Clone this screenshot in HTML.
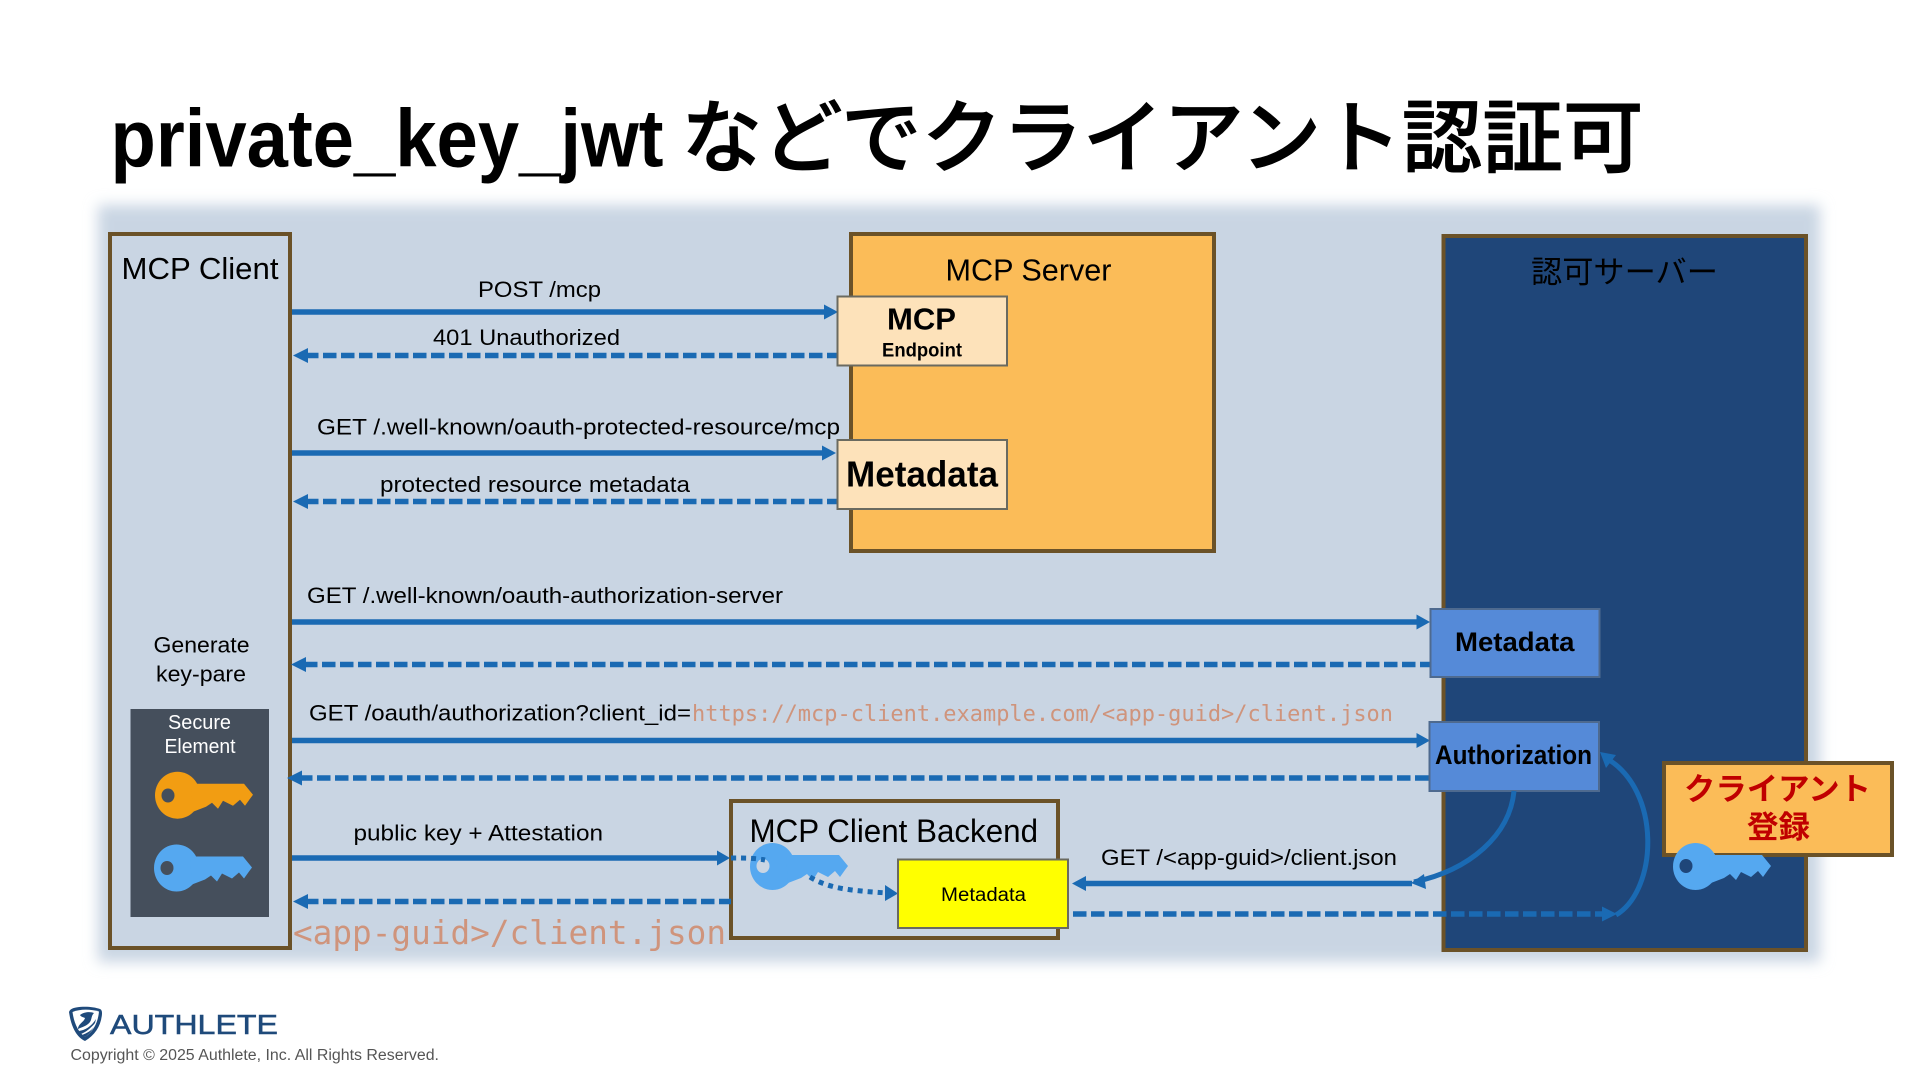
<!DOCTYPE html>
<html lang="ja"><head><meta charset="utf-8"><title>private_key_jwt</title>
<style>
html,body{margin:0;padding:0;background:#fff;width:1920px;height:1080px;overflow:hidden}
svg{display:block}
text{font-family:"Liberation Sans","Noto Sans CJK JP",sans-serif;fill:#000}
.m{font-family:"DejaVu Sans Mono","Liberation Mono",monospace;fill:#cf947c}
.j{font-family:"Noto Sans CJK JP","Liberation Sans",sans-serif}
.b{font-weight:700}
.a{stroke:#1a6ab3;stroke-width:5.5;fill:none}
.d{stroke:#1a6ab3;stroke-width:5.5;fill:none;stroke-dasharray:13.5 4.5}
.h{fill:#1a6ab3}
.box{stroke:#6b5228;stroke-width:4}
.sub{stroke:#6a6a60;stroke-width:2}
</style></head><body>
<svg width="1920" height="1080" viewBox="0 0 1920 1080" xmlns="http://www.w3.org/2000/svg">
<defs>
<filter id="bl" x="-5%" y="-5%" width="110%" height="110%"><feGaussianBlur stdDeviation="7"/></filter>
<g id="key"><ellipse cx="22.5" cy="23.5" rx="22.5" ry="23.5"/><path d="M36,12 L89,12 L98,23 L95,27 L90,34 L85,28 L78,34 L68,29 L63,37 L57,31 L51,35 L38,40 Z"/></g>
</defs>

<!-- title -->
<text x="110.5" y="166.5" font-size="82" class="b" textLength="553" lengthAdjust="spacingAndGlyphs">private_key_jwt</text>
<text x="681.5" y="166" font-size="80" class="j" font-weight="500" textLength="962" lengthAdjust="spacingAndGlyphs" stroke="#000" stroke-width="0.8">などでクライアント認証可</text>

<!-- panel -->
<rect x="98" y="205" width="1722" height="757" fill="#c9d5e3" filter="url(#bl)"/>

<!-- main boxes -->
<rect class="box" x="110" y="234" width="180" height="714" fill="#c9d5e3"/>
<rect class="box" x="851" y="234" width="363" height="317" fill="#fbbc58"/>
<rect class="box" x="1443.5" y="236" width="362.5" height="714" fill="#1f4679"/>
<rect class="box" x="731" y="801" width="327" height="137" fill="#c9d5e3"/>

<!-- labels -->
<text x="121.5" y="279" font-size="31" textLength="157" lengthAdjust="spacingAndGlyphs">MCP Client</text>
<text x="945.5" y="280.5" font-size="31" textLength="166" lengthAdjust="spacingAndGlyphs">MCP Server</text>
<text x="1531" y="283" font-size="31" class="j" textLength="187" lengthAdjust="spacingAndGlyphs">認可サーバー</text>
<text x="749.5" y="842" font-size="32" textLength="288.5" lengthAdjust="spacingAndGlyphs">MCP Client Backend</text>

<text x="478" y="297" font-size="22" textLength="123" lengthAdjust="spacingAndGlyphs">POST /mcp</text>
<text x="433" y="345" font-size="22" textLength="187" lengthAdjust="spacingAndGlyphs">401 Unauthorized</text>
<text x="317" y="434.5" font-size="22" textLength="523" lengthAdjust="spacingAndGlyphs">GET /.well-known/oauth-protected-resource/mcp</text>
<text x="380" y="492" font-size="22" textLength="310" lengthAdjust="spacingAndGlyphs">protected resource metadata</text>
<text x="307" y="603" font-size="22" textLength="476" lengthAdjust="spacingAndGlyphs">GET /.well-known/oauth-authorization-server</text>
<text x="309" y="720.5" font-size="22" textLength="382" lengthAdjust="spacingAndGlyphs">GET /oauth/authorization?client_id=</text>
<text x="692" y="721" font-size="22" class="m" textLength="701" lengthAdjust="spacingAndGlyphs">https://mcp-client.example.com/&lt;app-guid&gt;/client.json</text>
<text x="353.5" y="840.5" font-size="22" textLength="249.5" lengthAdjust="spacingAndGlyphs">public key + Attestation</text>
<text x="293" y="944" font-size="32.5" class="m" textLength="433" lengthAdjust="spacingAndGlyphs">&lt;app-guid&gt;/client.json</text>
<text x="1101" y="865" font-size="22" textLength="296" lengthAdjust="spacingAndGlyphs">GET /&lt;app-guid&gt;/client.json</text>

<text x="153.5" y="652.5" font-size="22" textLength="96" lengthAdjust="spacingAndGlyphs">Generate</text>
<text x="156" y="681.5" font-size="22" textLength="90" lengthAdjust="spacingAndGlyphs">key-pare</text>

<!-- secure element -->
<rect x="130.5" y="709" width="138.5" height="208" fill="#454f5c"/>
<text x="168" y="729" font-size="20" style="fill:#fff" textLength="63" lengthAdjust="spacingAndGlyphs">Secure</text>
<text x="164.5" y="753" font-size="20" style="fill:#fff" textLength="71" lengthAdjust="spacingAndGlyphs">Element</text>
<use href="#key" x="155" y="771.7" fill="#f29d12"/>
<ellipse cx="168" cy="795.5" rx="6.5" ry="7" fill="#454f5c"/>
<use href="#key" x="154" y="844.5" fill="#55a8f0"/>
<ellipse cx="167" cy="868" rx="6.5" ry="7" fill="#454f5c"/>

<!-- arrows -->
<line class="a" x1="292" y1="312" x2="826" y2="312"/><polygon class="h" points="824,304.5 838,312 824,319.5"/>
<line class="d" x1="305" y1="355.5" x2="838" y2="355.5"/><polygon class="h" points="293,355.5 308,348 308,363"/>
<line class="a" x1="292" y1="453" x2="824" y2="453"/><polygon class="h" points="822,445.5 836,453 822,460.5"/>
<line class="d" x1="305" y1="501.5" x2="838" y2="501.5"/><polygon class="h" points="293,501.5 308,494 308,509"/>

<line class="a" x1="292" y1="622" x2="1418" y2="622"/><polygon class="h" points="1416.5,614.5 1430,622 1416.5,629.5"/>
<line class="d" x1="304" y1="664.5" x2="1430" y2="664.5"/><polygon class="h" points="291,664.5 306,657 306,672"/>
<line class="a" x1="292" y1="740.5" x2="1418" y2="740.5"/><polygon class="h" points="1416.5,733 1430,740.5 1416.5,748"/>
<line class="d" x1="299" y1="778" x2="1430" y2="778"/><polygon class="h" points="287,778 302,770.5 302,785.5"/>

<line class="a" x1="292" y1="858" x2="719" y2="858"/><polygon class="h" points="717,850.5 730,858 717,865.5"/>
<line class="d" x1="305" y1="901.5" x2="731" y2="901.5"/><polygon class="h" points="293,901.5 308,894 308,909"/>

<line class="a" x1="1083" y1="883.5" x2="1412" y2="883.5"/><polygon class="h" points="1072,883.5 1086,876 1086,891"/>
<line class="d" x1="1073" y1="914" x2="1602" y2="914"/><polygon class="h" points="1602,906.5 1617,914 1602,921.5"/>

<!-- backend key + dotted -->
<use href="#key" x="750" y="843" fill="#55a8f0"/>
<ellipse cx="763" cy="866" rx="6.5" ry="7" fill="#c9d5e3"/>
<path d="M731,858 C745,858 755,858 765,860" stroke="#1a6ab3" stroke-width="5" stroke-dasharray="5 5" fill="none"/>
<path d="M810,877 C830,890 860,891 887,893" stroke="#1a6ab3" stroke-width="5" stroke-dasharray="5 5" fill="none"/>
<polygon class="h" points="885,885 898,893.5 885,901"/>

<!-- sub boxes -->
<rect class="sub" x="837.5" y="296.5" width="169.5" height="69" fill="#fde2ba"/>
<text x="887" y="329.5" font-size="31" class="b" textLength="69" lengthAdjust="spacingAndGlyphs">MCP</text>
<text x="882" y="356.5" font-size="19" class="b" textLength="80" lengthAdjust="spacingAndGlyphs">Endpoint</text>
<rect class="sub" x="837.5" y="440" width="169.5" height="69" fill="#fde2ba"/>
<text x="846" y="486.5" font-size="36" class="b" textLength="152" lengthAdjust="spacingAndGlyphs">Metadata</text>

<rect x="898" y="859.5" width="170" height="68.5" fill="#ffff00" stroke="#6a6a60" stroke-width="2"/>
<text x="941" y="901" font-size="19" textLength="85" lengthAdjust="spacingAndGlyphs">Metadata</text>

<rect x="1430.5" y="609" width="169" height="68" fill="#558ad8" stroke="#4e6a8f" stroke-width="2"/>
<text x="1455" y="651" font-size="27" class="b" textLength="119.5" lengthAdjust="spacingAndGlyphs">Metadata</text>
<rect x="1429.5" y="722" width="169.5" height="69" fill="#558ad8" stroke="#4e6a8f" stroke-width="2"/>
<text x="1435" y="764" font-size="27" class="b" textLength="157" lengthAdjust="spacingAndGlyphs">Authorization</text>

<!-- curves -->
<path d="M1514,791 C1510,835 1470,870 1414,882" stroke="#1a6ab3" stroke-width="5" fill="none"/>
<polygon class="h" points="1411,883 1424,874 1426,889"/>
<path d="M1616,915 C1658,890 1662,790 1606,758" stroke="#1a6ab3" stroke-width="5" fill="none"/>
<polygon class="h" points="1600,752 1616,755 1606,768"/>

<!-- client registration -->
<rect class="box" x="1664" y="763" width="228" height="92" fill="#fbbc58"/>
<text x="1684" y="800" font-size="31" class="j b" style="fill:#c00000" textLength="187" lengthAdjust="spacingAndGlyphs">クライアント</text>
<text x="1747" y="838" font-size="31" class="j b" style="fill:#c00000" textLength="63" lengthAdjust="spacingAndGlyphs">登録</text>
<use href="#key" x="1673" y="843" fill="#55a8f0"/>
<ellipse cx="1686" cy="866" rx="6.5" ry="7" fill="#1f4679"/>

<!-- footer logo -->
<path d="M69,1012 C70,1009 73,1008 76,1007.5 C85,1006 94,1007 100,1009 C102,1010 102,1012 102,1014 C101,1026 95,1035 85,1041 C76,1037 71,1026 69,1012 Z" fill="#1f4a7b"/>
<path d="M72.5,1012 C80,1009 90,1009 99,1011.5 C98,1022 94,1031 85,1037 C78,1032 74,1023 72.5,1012 Z" fill="#fff"/>
<path d="M78,1029 C78,1024 84,1022 85,1018 C83,1017 81,1017 80,1015 C85,1011 92,1012 94,1013 C91,1016 92,1019 90,1022 C87,1026 82,1027 78,1029 Z" fill="#1f4a7b"/>
<path d="M79,1031 C85,1030 91,1027 96,1019 L95,1023 C91,1028 86,1032 81,1034 Z M82,1035 C87,1033 91,1031 94,1027 C91,1032 88,1035 85,1037 Z" fill="#1f4a7b"/>
<text x="110" y="1034" font-size="27.5" style="fill:#1f4a7b" stroke="#1f4a7b" stroke-width="0.5" textLength="168" lengthAdjust="spacingAndGlyphs">AUTHLETE</text>
<text x="70.5" y="1060" font-size="15.5" style="fill:#555" textLength="368.5" lengthAdjust="spacingAndGlyphs">Copyright © 2025 Authlete, Inc. All Rights Reserved.</text>
</svg>
</body></html>
